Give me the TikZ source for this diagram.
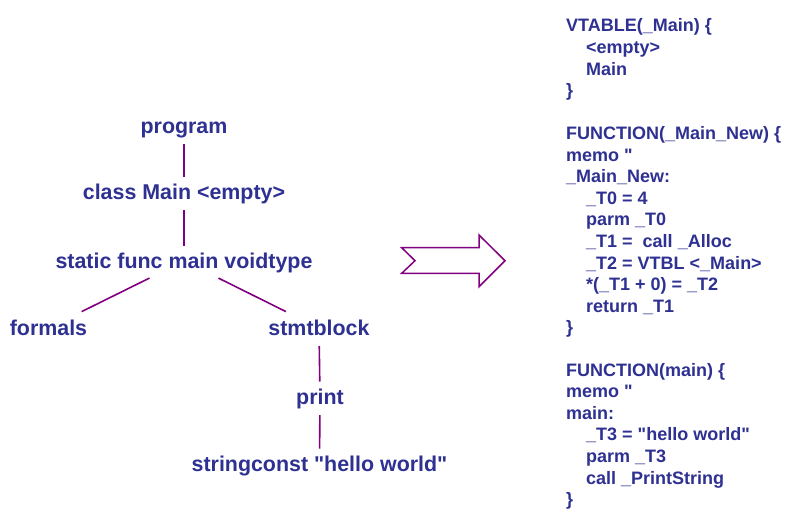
\documentclass[tikz,border=0pt]{standalone}
\usepackage{fontspec}
\newfontfamily\lsans{Liberation Sans}
\definecolor{txt}{RGB}{46,49,146}
\definecolor{ln}{RGB}{128,0,128}
\begin{document}
\begin{tikzpicture}[x=1pt,y=-1pt,
  tree/.style={font=\lsans\bfseries\fontsize{21.4}{24}\selectfont, text=txt, inner sep=0pt, text height=17pt, text depth=2pt},
  code/.style={font=\lsans\bfseries\fontsize{18}{21.6}\selectfont, text=txt, inner sep=0pt, anchor=base west},
  conn/.style={draw=ln, line width=1.6pt},
  vconn/.style={conn, shorten <=18pt, shorten >=15.5pt},
  dconn/.style={conn, shorten <=38.5pt, shorten >=37pt},
  bigarrow/.style={draw=ln, line width=1.5pt, fill=white, line join=miter}]
\useasboundingbox[fill=white] (0,0) rectangle (795,517);
% tree
\node[tree] (program) at (184,126) {program};
\node[tree] (class) at (184,192) {class Main <empty>};
\node[tree] (static) at (184,261) {static func main voidtype};
\node[tree] (formals) at (48.5,328) {formals};
\node[tree] (stmtblock) at (319,328) {stmtblock};
\node[tree] (print) at (320,397) {print};
\node[tree] (string) at (319.5,464) {stringconst "hello world"};
\draw[vconn] (program.center) -- (class.center);
\draw[vconn] (class.center) -- (static.center);
\draw[dconn] (static.center) -- (formals.center);
\draw[dconn] (static.center) -- (stmtblock.center);
\draw[vconn] (stmtblock.center) -- (print.center);
\draw[vconn] (print.center) -- (string.center);
% arrow
\draw[bigarrow] (401.7,247.7) -- (479,247.7) -- (479,235) -- (505,260.7) -- (479,286.7) -- (479,273.3) -- (401.7,273.3) -- (415,260.7) -- cycle;
% code
\node[code] (c1) at (566,31.9) {VTABLE(\_Main) \{};
\node[code] (c2) at (586,53.5) {<empty>};
\node[code] (c3) at (586,75.1) {Main};
\node[code] (c4) at (566,96.7) {\}};
\node[code] (c5) at (566,139.4) {FUNCTION(\_Main\_New) \{};
\node[code] (c6) at (566,161.0) {memo "};
\node[code] (c7) at (566,182.6) {\_Main\_New:};
\node[code] (c8) at (586,204.2) {\_T0 = 4};
\node[code] (c9) at (586,225.8) {parm \_T0};
\node[code] (c10) at (586,247.4) {\_T1 =\ \ call \_Alloc};
\node[code] (c11) at (586,269.0) {\_T2 = VTBL <\_Main>};
\node[code] (c12) at (586,290.6) {*(\_T1 + 0) = \_T2};
\node[code] (c13) at (586,312.2) {return \_T1};
\node[code] (c14) at (566,333.8) {\}};
\node[code] (c15) at (566,376.0) {FUNCTION(main) \{};
\node[code] (c16) at (566,397.6) {memo "};
\node[code] (c17) at (566,419.2) {main:};
\node[code] (c18) at (586,440.8) {\_T3 = "hello world"};
\node[code] (c19) at (586,462.4) {parm \_T3};
\node[code] (c20) at (586,484.0) {call \_PrintString};
\node[code] (c21) at (566,505.6) {\}};
\end{tikzpicture}
\end{document}
